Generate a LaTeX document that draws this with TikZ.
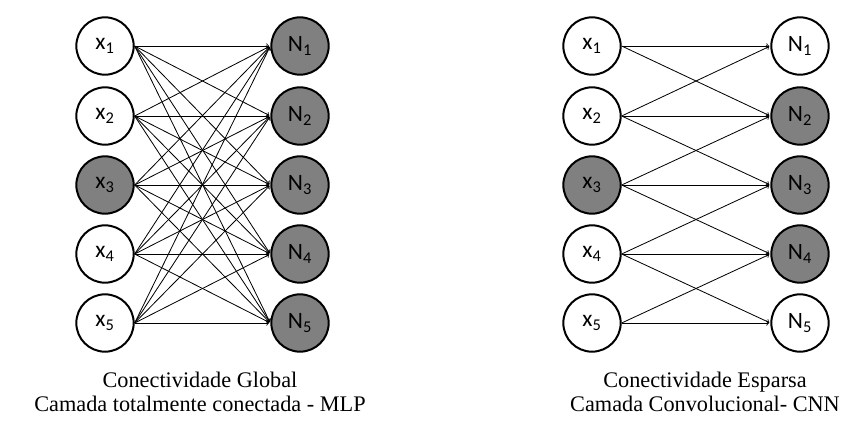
\documentclass[tikz,border=0pt]{standalone}
\usepackage{fontspec}
\setmainfont{Liberation Serif}
\newfontfamily\nodefont{Carlito}
\usepackage{tikz}
\usepackage{xcolor}
\usetikzlibrary{positioning}

\definecolor{cellgray}{RGB}{128,128,128}
\tikzset{
  unit/.style={circle, draw, line width=1.7pt, minimum size=1.72cm, inner sep=0pt, font=\nodefont\fontsize{20}{24}\selectfont},
  active/.style={unit, fill=cellgray},
  link/.style={->, line width=0.7pt, shorten >=1pt},
  caption/.style={align=center, font=\fontsize{19}{21}\selectfont}
}

\begin{document}
\begin{tikzpicture}[x=0.03cm, y=-0.03cm]
      \useasboundingbox (0,0) rectangle (860,442);
      %% left: fully connected
      \node [unit]    (a1) at (105,  46) {x\textsubscript{1}};
      \node [unit]    (a2) at (105, 116) {x\textsubscript{2}};
      \node [active]  (a3) at (105, 185) {x\textsubscript{3}};
      \node [unit]    (a4) at (105, 254) {x\textsubscript{4}};
      \node [unit]    (a5) at (105, 323) {x\textsubscript{5}};
      \node [active]  (m1) at (300,  46) {N\textsubscript{1}};
      \node [active]  (m2) at (300, 116) {N\textsubscript{2}};
      \node [active]  (m3) at (300, 185) {N\textsubscript{3}};
      \node [active]  (m4) at (300, 254) {N\textsubscript{4}};
      \node [active]  (m5) at (300, 323) {N\textsubscript{5}};
      \foreach \i in {1,...,5}
        \foreach \j in {1,...,5}
          \draw [link] (a\i.east) -- (m\j.west);
      \node [caption] (capa) at (200, 392) {Conectividade Global\\Camada totalmente conectada - MLP};
      %% right: sparse
      \node [unit]    (b1) at (592,  46) {x\textsubscript{1}};
      \node [unit]    (b2) at (592, 116) {x\textsubscript{2}};
      \node [active]  (b3) at (592, 185) {x\textsubscript{3}};
      \node [unit]    (b4) at (592, 254) {x\textsubscript{4}};
      \node [unit]    (b5) at (592, 323) {x\textsubscript{5}};
      \node [unit]    (n1) at (800,  46) {N\textsubscript{1}};
      \node [active]  (n2) at (800, 116) {N\textsubscript{2}};
      \node [active]  (n3) at (800, 185) {N\textsubscript{3}};
      \node [active]  (n4) at (800, 254) {N\textsubscript{4}};
      \node [unit]    (n5) at (800, 323) {N\textsubscript{5}};
      \draw [link] (b1.east) -- (n1.west);
      \draw [link] (b1.east) -- (n2.west);
      \draw [link] (b2.east) -- (n1.west);
      \draw [link] (b2.east) -- (n2.west);
      \draw [link] (b2.east) -- (n3.west);
      \draw [link] (b3.east) -- (n2.west);
      \draw [link] (b3.east) -- (n3.west);
      \draw [link] (b3.east) -- (n4.west);
      \draw [link] (b4.east) -- (n3.west);
      \draw [link] (b4.east) -- (n4.west);
      \draw [link] (b4.east) -- (n5.west);
      \draw [link] (b5.east) -- (n4.west);
      \draw [link] (b5.east) -- (n5.west);
      \node [caption] (capb) at (705, 392) {Conectividade Esparsa\\Camada Convolucional- CNN};
\end{tikzpicture}
\end{document}
